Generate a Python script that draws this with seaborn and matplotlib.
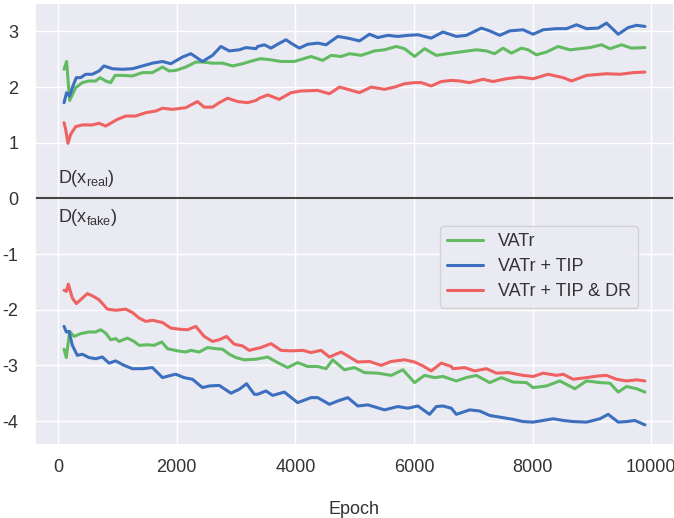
import matplotlib
matplotlib.use("Agg")
import matplotlib.pyplot as plt
import pandas as pd
import seaborn as sns

methods = ["VATr", "VATr + TIP", "VATr + TIP & DR"]
colors = ["#62bb62", "#3d6fbf", "#ef6262"]

# ---- D(x_real) ----
vatr_real_epoch = [100, 143, 195, 296, 408, 521, 634, 707, 802, 887, 960, 1084, 1253, 1422, 1590, 1760,
                   1872, 1985, 2153, 2322, 2435, 2604, 2773, 2942, 3110, 3336, 3421, 3590, 3759, 3984,
                   4265, 4462, 4603, 4772, 4913, 5110, 5335, 5504, 5701, 5842, 6011, 6180, 6377, 6630,
                   6771, 7053, 7222, 7362, 7503, 7644, 7813, 7925, 8066, 8235, 8432, 8629, 8798, 8967,
                   9164, 9305, 9502, 9670, 9896]
vatr_real_value = [2.32, 2.46, 1.76, 1.99, 2.08, 2.11, 2.11, 2.17, 2.11, 2.08, 2.21, 2.21, 2.20, 2.26, 2.26, 2.36,
                   2.29, 2.30, 2.36, 2.45, 2.45, 2.43, 2.43, 2.38, 2.42, 2.49, 2.51, 2.49, 2.46, 2.46,
                   2.55, 2.48, 2.57, 2.55, 2.60, 2.57, 2.65, 2.67, 2.73, 2.69, 2.55, 2.69, 2.57, 2.61,
                   2.63, 2.67, 2.65, 2.60, 2.70, 2.61, 2.70, 2.67, 2.58, 2.63, 2.73, 2.67, 2.69, 2.71,
                   2.76, 2.69, 2.76, 2.70, 2.71]

tip_real_epoch = [100, 143, 195, 239, 307, 380, 465, 577, 690, 774, 915, 1084, 1253, 1422, 1590, 1760,
                  1900, 2097, 2238, 2435, 2604, 2745, 2886, 3055, 3167, 3336, 3365, 3477, 3590, 3702,
                  3843, 3956, 4068, 4209, 4378, 4519, 4716, 4885, 5082, 5251, 5391, 5560, 5729, 5898,
                  6067, 6292, 6489, 6630, 6715, 6884, 7137, 7278, 7447, 7616, 7841, 8010, 8179, 8404,
                  8573, 8742, 8911, 9108, 9248, 9445, 9614, 9755, 9896]
tip_real_value = [1.72, 1.90, 1.84, 1.99, 2.17, 2.17, 2.23, 2.23, 2.29, 2.38, 2.33, 2.32, 2.33, 2.38, 2.43, 2.46,
                  2.42, 2.54, 2.60, 2.46, 2.57, 2.73, 2.65, 2.67, 2.71, 2.69, 2.73, 2.76, 2.70, 2.77,
                  2.85, 2.77, 2.70, 2.77, 2.79, 2.76, 2.91, 2.88, 2.83, 2.95, 2.89, 2.93, 2.91, 2.93,
                  2.94, 2.88, 2.99, 2.94, 2.91, 2.93, 3.06, 3.01, 2.93, 3.01, 3.03, 2.95, 3.03, 3.05,
                  3.05, 3.12, 3.05, 3.06, 3.15, 2.95, 3.07, 3.11, 3.09]

dr_real_epoch = [100, 127, 166, 211, 296, 408, 577, 690, 802, 1000, 1140, 1309, 1478, 1647, 1760, 1928,
                 2153, 2350, 2463, 2604, 2717, 2858, 3026, 3195, 3336, 3393, 3533, 3730, 3928, 4097,
                 4378, 4575, 4744, 4885, 5082, 5279, 5504, 5673, 5842, 6011, 6124, 6292, 6461, 6630,
                 6771, 6940, 7165, 7334, 7559, 7784, 8010, 8263, 8517, 8657, 8911, 9248, 9473, 9698, 9896]
dr_real_value = [1.36, 1.24, 0.99, 1.15, 1.29, 1.32, 1.32, 1.35, 1.30, 1.42, 1.48, 1.48, 1.54, 1.57, 1.62, 1.60,
                 1.63, 1.74, 1.64, 1.64, 1.72, 1.80, 1.74, 1.72, 1.76, 1.80, 1.86, 1.78, 1.90, 1.93,
                 1.94, 1.88, 2.00, 1.96, 1.90, 2.00, 1.96, 2.00, 2.06, 2.08, 2.08, 2.02, 2.10, 2.12,
                 2.11, 2.08, 2.14, 2.10, 2.15, 2.18, 2.15, 2.23, 2.17, 2.11, 2.21, 2.24, 2.23, 2.26, 2.27]

# ---- D(x_fake) ----
vatr_fake_epoch = [100, 138, 195, 268, 380, 521, 634, 718, 802, 887, 971, 1028, 1168, 1281, 1366, 1506,
                   1619, 1748, 1844, 2013, 2153, 2238, 2379, 2520, 2660, 2773, 2886, 2998, 3139, 3336,
                   3533, 3702, 3871, 4040, 4209, 4378, 4519, 4631, 4828, 4997, 5166, 5391, 5617, 5814,
                   6011, 6180, 6349, 6489, 6630, 6715, 6884, 7053, 7278, 7475, 7672, 7897, 8010, 8235,
                   8460, 8714, 8911, 9136, 9305, 9445, 9586, 9755, 9896]
vatr_fake_value = [-2.71, -2.86, -2.39, -2.48, -2.43, -2.40, -2.40, -2.36, -2.42, -2.54, -2.52, -2.57, -2.51, -2.57, -2.64, -2.63,
                   -2.64, -2.58, -2.70, -2.74, -2.76, -2.73, -2.76, -2.68, -2.70, -2.71, -2.80, -2.86, -2.90, -2.89,
                   -2.85, -2.95, -3.04, -2.95, -3.02, -3.02, -3.06, -2.90, -3.08, -3.04, -3.13, -3.14, -3.18, -3.08,
                   -3.31, -3.18, -3.22, -3.20, -3.25, -3.28, -3.22, -3.18, -3.31, -3.22, -3.30, -3.31, -3.40, -3.37,
                   -3.28, -3.42, -3.28, -3.31, -3.32, -3.48, -3.38, -3.42, -3.48]

tip_fake_epoch = [100, 138, 183, 240, 324, 408, 521, 634, 746, 859, 971, 1112, 1253, 1422, 1590, 1760,
                  1900, 1985, 2125, 2266, 2435, 2548, 2717, 2914, 3055, 3178, 3308, 3365, 3505, 3618,
                  3815, 4040, 4265, 4378, 4575, 4716, 4885, 5054, 5223, 5504, 5729, 5898, 6067, 6264,
                  6377, 6489, 6630, 6715, 6940, 7109, 7278, 7447, 7672, 7841, 8010, 8179, 8348, 8517,
                  8686, 8911, 9136, 9276, 9445, 9586, 9727, 9896]
tip_fake_value = [-2.30, -2.40, -2.39, -2.64, -2.82, -2.80, -2.86, -2.88, -2.85, -2.96, -2.92, -3.00, -3.06, -3.06, -3.04, -3.22,
                  -3.18, -3.16, -3.22, -3.25, -3.40, -3.37, -3.36, -3.50, -3.43, -3.33, -3.52, -3.52, -3.46, -3.54,
                  -3.48, -3.67, -3.58, -3.58, -3.70, -3.64, -3.58, -3.73, -3.71, -3.80, -3.74, -3.77, -3.73, -3.88,
                  -3.74, -3.73, -3.77, -3.88, -3.80, -3.82, -3.90, -3.93, -3.97, -4.01, -4.02, -3.99, -3.96, -3.99,
                  -4.01, -4.02, -3.96, -3.88, -4.02, -4.01, -3.99, -4.07]

dr_fake_epoch = [100, 138, 172, 240, 307, 380, 493, 577, 690, 831, 971, 1140, 1253, 1366, 1478, 1590,
                 1760, 1900, 2041, 2182, 2322, 2463, 2604, 2717, 2840, 2970, 3110, 3223, 3336, 3421,
                 3590, 3759, 3928, 4125, 4265, 4434, 4575, 4772, 4913, 5054, 5251, 5448, 5617, 5842,
                 6011, 6152, 6292, 6461, 6630, 6659, 6856, 7025, 7222, 7391, 7588, 7841, 8010, 8179,
                 8404, 8517, 8686, 8911, 9108, 9248, 9417, 9586, 9755, 9896]
dr_fake_value = [-1.65, -1.67, -1.54, -1.79, -1.89, -1.82, -1.71, -1.75, -1.82, -1.99, -2.01, -1.99, -2.05, -2.15, -2.21, -2.19,
                 -2.23, -2.33, -2.35, -2.36, -2.30, -2.48, -2.57, -2.54, -2.48, -2.62, -2.65, -2.73, -2.70, -2.68,
                 -2.61, -2.73, -2.74, -2.73, -2.77, -2.73, -2.85, -2.76, -2.85, -2.94, -2.93, -3.00, -2.93, -2.90,
                 -2.94, -3.01, -3.10, -2.96, -3.02, -3.06, -3.04, -3.10, -3.06, -3.14, -3.13, -3.18, -3.20, -3.14,
                 -3.18, -3.16, -3.25, -3.22, -3.19, -3.18, -3.25, -3.28, -3.26, -3.28]

series = [
    ("VATr", "real", vatr_real_epoch, vatr_real_value),
    ("VATr + TIP", "real", tip_real_epoch, tip_real_value),
    ("VATr + TIP & DR", "real", dr_real_epoch, dr_real_value),
    ("VATr", "fake", vatr_fake_epoch, vatr_fake_value),
    ("VATr + TIP", "fake", tip_fake_epoch, tip_fake_value),
    ("VATr + TIP & DR", "fake", dr_fake_epoch, dr_fake_value),
]
rows = []
for method, side, ep, val in series:
    for e, v in zip(ep, val):
        rows.append({"Epoch": e, "value": v, "method": method, "side": side})
df = pd.DataFrame(rows)

sns.set_theme(style="darkgrid")
plt.rcParams["font.family"] = ["Liberation Sans", "DejaVu Sans"]
plt.rcParams["axes.unicode_minus"] = False
plt.rcParams["mathtext.default"] = "regular"

fig = plt.figure(figsize=(6.74, 5.18), dpi=100)
ax = fig.add_axes([35 / 674, 1 - 445 / 518, (674 - 35) / 674, (445 - 3) / 518])

sns.lineplot(data=df, x="Epoch", y="value", hue="method", hue_order=methods,
             palette=colors, units="side", estimator=None, sort=False,
             linewidth=2.2, ax=ax)

ax.axhline(0, color="#444444", linewidth=1.5, zorder=1)

ax.text(0, 0.27, r"D(x$_{real}$)", fontsize=13, color="#333333", ha="left", va="baseline")
ax.text(0, -0.43, r"D(x$_{fake}$)", fontsize=13, color="#333333", ha="left", va="baseline")

ax.set_ylabel("")
ax.set_xlabel("Epoch", fontsize=13, color="#333333", labelpad=18)
ax.tick_params(axis="both", labelsize=13, colors="#333333")
ax.tick_params(axis="y", pad=6)
ax.tick_params(axis="x", pad=4)
ax.set_yticks([-4, -3, -2, -1, 0, 1, 2, 3])

leg = ax.legend(loc="upper right", bbox_to_anchor=(0.958, 0.516), fontsize=13,
                labelspacing=0.45, handlelength=2.0)
for t in leg.get_texts():
    t.set_color("#333333")

fig.savefig("out.png", dpi=100)
